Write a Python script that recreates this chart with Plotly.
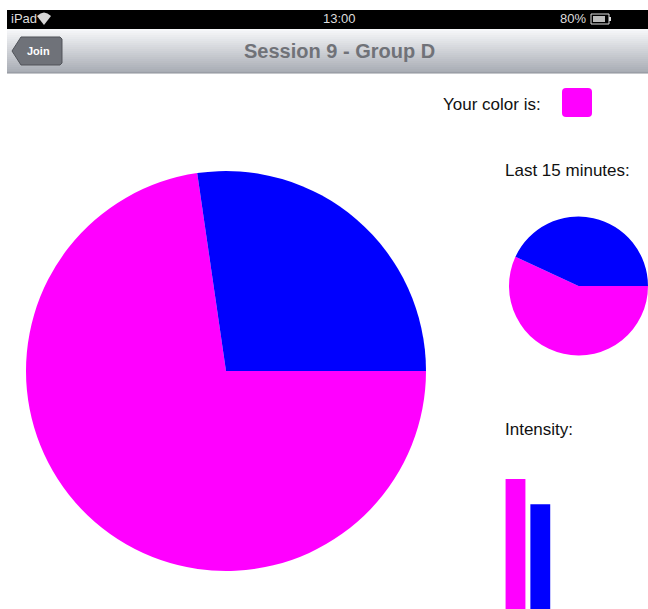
import plotly.graph_objects as go

W, H = 648, 609

# ---- data ----
slice_labels = ["Magenta", "Blue"]
slice_colors = ["#FF00FF", "#0000FF"]
session_share = [72.7, 27.3]        # whole session
last15_share = [56.9, 43.1]         # last 15 minutes
intensity_labels = ["Magenta", "Blue"]
intensity_values = [0.62, 0.50]
intensity_colors = ["#FF00FF", "#0000FF"]
title_text = "Session 9 - Group D"


def px(x):
    return x / W


def py(y):
    return 1 - y / H


fig = go.Figure()

# big pie
fig.add_trace(go.Pie(
    labels=slice_labels, values=session_share, sort=False,
    direction="clockwise", rotation=90,
    marker=dict(colors=slice_colors, line=dict(width=0)),
    textinfo="none", hoverinfo="label+percent", showlegend=False,
    domain=dict(x=[px(26), px(426)], y=[py(571), py(171)]),
))

# small pie (extends slightly past the right edge of the screen)
fig.add_trace(go.Pie(
    labels=slice_labels, values=last15_share, sort=False,
    direction="clockwise", rotation=90,
    marker=dict(colors=slice_colors, line=dict(width=0)),
    textinfo="none", hoverinfo="label+percent", showlegend=False,
    domain=dict(x=[px(509), 1.0], y=[py(357), py(215)]),
))

# intensity bars
fig.add_trace(go.Bar(
    x=[0, 1], y=intensity_values, width=0.8,
    marker=dict(color=intensity_colors, line=dict(width=0)),
    hovertext=intensity_labels, hoverinfo="text+y", showlegend=False,
))

ppu = 130 / intensity_values[0]
top_val = 0.67
fig.update_layout(
    xaxis=dict(domain=[px(503.1), px(552.7)], range=[-0.5, 1.5], visible=False, fixedrange=True),
    yaxis=dict(domain=[0, top_val * ppu / H], range=[0, top_val], visible=False, fixedrange=True),
)

shapes = []
# status bar
shapes.append(dict(type="rect", xref="paper", yref="paper", x0=px(7), x1=1, y0=py(29), y1=py(10),
                   fillcolor="#000000", line=dict(width=0), layer="below"))
# nav bar gradient
top_c = (246, 247, 249)
bot_c = (168, 172, 180)
n = 22
y_start, y_end = 29, 73
for i in range(n):
    t = i / (n - 1)
    c = tuple(int(round(top_c[k] + (bot_c[k] - top_c[k]) * t)) for k in range(3))
    y0 = y_start + (y_end - y_start) * i / n
    y1 = y_start + (y_end - y_start) * (i + 1) / n
    shapes.append(dict(type="rect", xref="paper", yref="paper", x0=px(7), x1=1, y0=py(y1), y1=py(y0),
                       fillcolor="rgb(%d,%d,%d)" % c, line=dict(width=0), layer="below"))
shapes.append(dict(type="line", xref="paper", yref="paper", x0=px(7), x1=1, y0=py(73), y1=py(73),
                   line=dict(color="#8c9098", width=1)))
# Join back button
jb = [(12, 51), (21, 37), (60, 37), (62, 39), (62, 63), (60, 65), (21, 65)]
path = "M " + " L ".join("%f,%f" % (px(x), py(y)) for x, y in jb) + " Z"
shapes.append(dict(type="path", xref="paper", yref="paper", path=path,
                   fillcolor="#6f7279", line=dict(color="#505359", width=1)))
# colour swatch (rounded square)
x0, x1, y0, y1, r = 562, 592, 88, 117, 4
sw = [
    "M %f,%f" % (px(x0 + r), py(y0)),
    "L %f,%f" % (px(x1 - r), py(y0)),
    "Q %f,%f %f,%f" % (px(x1), py(y0), px(x1), py(y0 + r)),
    "L %f,%f" % (px(x1), py(y1 - r)),
    "Q %f,%f %f,%f" % (px(x1), py(y1), px(x1 - r), py(y1)),
    "L %f,%f" % (px(x0 + r), py(y1)),
    "Q %f,%f %f,%f" % (px(x0), py(y1), px(x0), py(y1 - r)),
    "L %f,%f" % (px(x0), py(y0 + r)),
    "Q %f,%f %f,%f" % (px(x0), py(y0), px(x0 + r), py(y0)),
    "Z",
]
shapes.append(dict(type="path", xref="paper", yref="paper", path=" ".join(sw),
                   fillcolor="#FF00FF", line=dict(width=0)))
# wifi icon (fan)
wf = "M %f,%f L %f,%f Q %f,%f %f,%f Z" % (
    px(44), py(25), px(37), py(16), px(44), py(9), px(51), py(16))
shapes.append(dict(type="path", xref="paper", yref="paper", path=wf,
                   fillcolor="#d8d8d8", line=dict(width=0)))
# battery icon
shapes.append(dict(type="rect", xref="paper", yref="paper", x0=px(591), x1=px(609), y0=py(24), y1=py(14),
                   fillcolor="rgba(0,0,0,0)", line=dict(color="#dddddd", width=1)))
shapes.append(dict(type="rect", xref="paper", yref="paper", x0=px(593), x1=px(605), y0=py(22), y1=py(16),
                   fillcolor="#bbbbbb", line=dict(width=0)))
shapes.append(dict(type="rect", xref="paper", yref="paper", x0=px(609), x1=px(611), y0=py(21), y1=py(17),
                   fillcolor="#dddddd", line=dict(width=0)))

font = "Liberation Sans, Arial, Helvetica, sans-serif"


def txt(x, y, s, size, color, anchor="left", bold=False):
    return dict(xref="paper", yref="paper", x=px(x), y=py(y), text=("<b>%s</b>" % s) if bold else s,
                showarrow=False, xanchor=anchor, yanchor="middle",
                font=dict(family=font, size=size, color=color))


annotations = [
    txt(9, 19, "iPad", 13, "#dddddd"),
    txt(339, 19, "13:00", 13, "#dddddd", "center"),
    txt(588, 19, "80%", 13, "#dddddd", "right"),
    txt(339, 51, title_text, 20, "#707278", "center", bold=True),
    txt(38, 51, "Join", 11, "#ffffff", "center", bold=True),
    txt(441, 104, "Your color is:", 17, "#111111"),
    txt(503, 170, "Last 15 minutes:", 17, "#111111"),
    txt(503, 429, "Intensity:", 17, "#111111"),
]

fig.update_layout(
    width=W, height=H, margin=dict(l=0, r=0, t=0, b=0),
    paper_bgcolor="#ffffff", plot_bgcolor="rgba(0,0,0,0)",
    shapes=shapes, annotations=annotations, showlegend=False,
    bargap=0.2,
)

fig.write_html(
    "out.html",
    config=dict(displayModeBar=False),
    post_script="document.body.style.margin='0';document.body.style.overflow='hidden';",
)
